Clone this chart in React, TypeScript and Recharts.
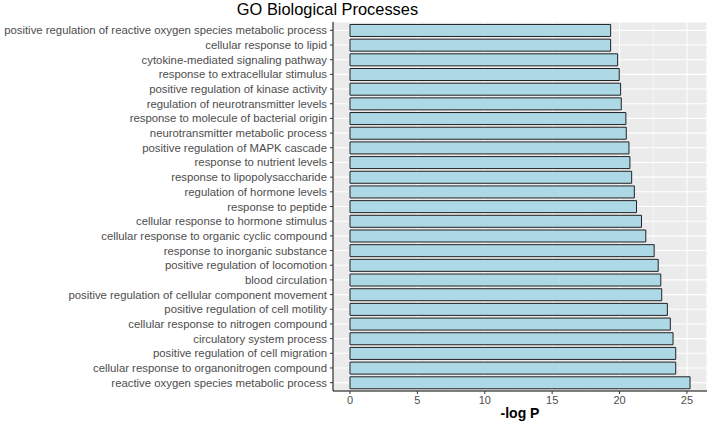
import { BarChart, Bar, XAxis, YAxis, CartesianGrid, Label } from "recharts";

// GO terms, top to bottom as they appear in the chart
const terms = [
  "positive regulation of reactive oxygen species metabolic process",
  "cellular response to lipid",
  "cytokine-mediated signaling pathway",
  "response to extracellular stimulus",
  "positive regulation of kinase activity",
  "regulation of neurotransmitter levels",
  "response to molecule of bacterial origin",
  "neurotransmitter metabolic process",
  "positive regulation of MAPK cascade",
  "response to nutrient levels",
  "response to lipopolysaccharide",
  "regulation of hormone levels",
  "response to peptide",
  "cellular response to hormone stimulus",
  "cellular response to organic cyclic compound",
  "response to inorganic substance",
  "positive regulation of locomotion",
  "blood circulation",
  "positive regulation of cellular component movement",
  "positive regulation of cell motility",
  "cellular response to nitrogen compound",
  "circulatory system process",
  "positive regulation of cell migration",
  "cellular response to organonitrogen compound",
  "reactive oxygen species metabolic process",
];

const logP = [
  19.34, 19.34, 19.86, 19.98, 20.08, 20.13, 20.47, 20.5, 20.7, 20.77, 20.9, 21.1, 21.26,
  21.63, 21.95, 22.57, 22.87, 23.06, 23.13, 23.55, 23.77, 23.97, 24.17, 24.17, 25.23,
];

const xTicks = [0, 5, 10, 15, 20, 25];
const xMinor = [2.5, 7.5, 12.5, 17.5, 22.5];

const data = terms.map((term, i) => ({ term, value: logP[i] }));

const font = "'Liberation Sans', Arial, sans-serif";

// plain one-line tick so long GO terms don't wrap
function TermTick(props: any) {
  const { x, y, payload } = props;
  return (
    <text x={x} y={y} dy="0.355em" textAnchor="end" fill="#4D4D4D" fontSize={11.35} fontFamily={font}>
      {payload.value}
    </text>
  );
}

export default function App() {
  return (
    <div style={{ position: "absolute", left: 0, top: 0, width: 709, height: 422, background: "#fff", fontFamily: font }}>
      <div
        style={{
          position: "absolute",
          left: 0,
          width: 655,
          top: 0,
          textAlign: "center",
          fontSize: 16.4,
          lineHeight: "19px",
          color: "#000",
        }}
      >
        GO Biological Processes
      </div>
      <BarChart
        width={709}
        height={422}
        data={data}
        layout="vertical"
        margin={{ top: 22, right: 2, left: 0, bottom: 0 }}
        barCategoryGap="10%"
      >
        <CartesianGrid
          fill="#EBEBEB"
          fillOpacity={1}
          stroke="#FFFFFF"
          strokeWidth={0.5}
          horizontal={false}
          verticalValues={xMinor}
        />
        <CartesianGrid stroke="#FFFFFF" strokeWidth={1.1} />
        <XAxis
          type="number"
          domain={[-1.26, 26.49]}
          allowDataOverflow
          ticks={xTicks}
          height={31}
          tickSize={3}
          tickMargin={2}
          axisLine={{ stroke: "#000", strokeWidth: 1 }}
          tickLine={{ stroke: "#333" }}
          tick={{ fill: "#4D4D4D", fontSize: 11, fontFamily: font }}
        >
          <Label value="-log P" position="insideBottom" offset={4} style={{ fill: "#000", fontSize: 14, fontWeight: "bold", fontFamily: font }} />
        </XAxis>
        <YAxis
          type="category"
          dataKey="term"
          width={333}
          interval={0}
          tickSize={3}
          tickMargin={3}
          padding={{ top: 1, bottom: 1 }}
          axisLine={{ stroke: "#000", strokeWidth: 1 }}
          tickLine={{ stroke: "#333" }}
          tick={<TermTick />}
        />
        <Bar dataKey="value" fill="#ADD8E6" stroke="#222" strokeWidth={1} isAnimationActive={false} />
      </BarChart>
    </div>
  );
}
